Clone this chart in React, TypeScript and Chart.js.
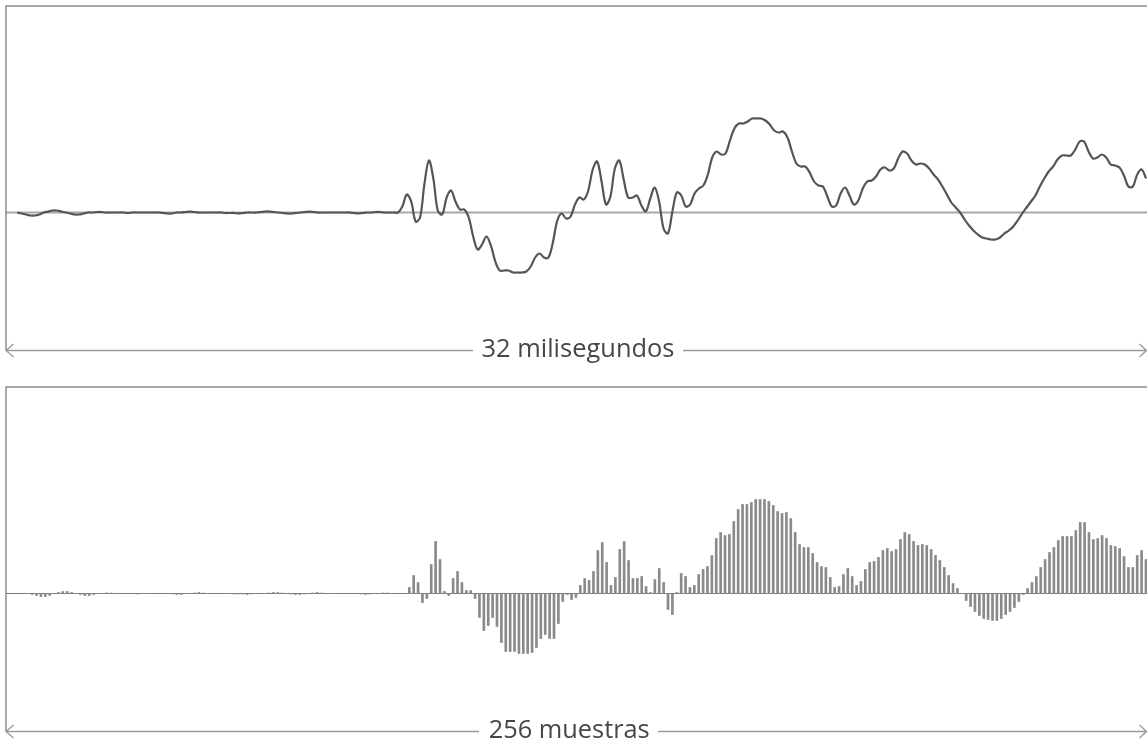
import React, { useEffect, useRef } from "react";
import { Chart, registerables } from "chart.js";

Chart.register(...registerables);

// Amplitude of each of the 256 samples (arbitrary units, 0 = silence).
// Samples 0–86: near-silent lead-in.
const quietSamples = [
  0, -1, -2, -3, -3, -2, 0, 1, 2, 2, 1, 0, -1, -2, -2, -1, 0,
  0, 0.5, 0.5, 0, 0, 0, 0, 0, -0.5, 0, 0, 0, 0, 0, 0, 0, -0.5,
  -1, -1, 0, 0, 0.5, 1, 0.5, 0, 0, 0, 0, 0, 0, -0.5, -0.5, -0.5,
  -1, -0.5, 0, 0, 0, 0.5, 1, 1, 0.5, 0, -0.5, -1, -1, -0.5, 0, 0.5,
  1, 0.5, 0, 0, 0, 0, 0, 0, 0, 0, -0.5, -1, -0.5, 0, 0, 0.5, 0.5,
  0, 0, 0, 0,
];

// Samples 87–255: the sound itself.
const burstSamples = [
  6, 18, 11, -9, -5, 29, 52, 34, 2, -2, 15, 22, 11, 3, 3, -5, -24, -37, -32, -24,
  -33, -49, -58, -58, -58, -60, -60, -60, -59, -54, -45, -41, -45, -45, -30, -8, -1, -6, -4, 8,
  15, 13, 22, 43, 51, 31, 8, 16, 44, 52, 33, 15, 15, 17, 7, 1, 14, 25, 11, -16,
  -21, 1, 20, 17, 6, 8, 19, 24, 27, 38, 55, 61, 58, 59, 72, 84, 89, 89, 91, 94,
  94, 94, 92, 88, 82, 80, 81, 75, 61, 49, 46, 46, 40, 31, 27, 26, 16, 6, 7, 19,
  25, 17, 8, 12, 24, 31, 32, 36, 43, 45, 42, 44, 54, 61, 59, 52, 48, 49, 48, 44,
  38, 33, 26, 18, 10, 5, 0, -7, -13, -18, -22, -25, -26, -27, -27, -25, -21, -18, -14, -8,
  -1, 5, 11, 17, 26, 34, 41, 46, 53, 57, 57, 57, 63, 71, 71, 61, 54, 55, 58, 55,
  48, 47, 45, 37, 26, 26, 38, 43, 34,
];

const samples = [...quietSamples, ...burstSamples];
const sampleLabels = samples.map((_, i) => String(i));

const durationLabel = "32 milisegundos";
const countLabel = "256 muestras";

const Y_MIN = -138;
const Y_MAX = 206.5;
const W = 1147;

type FrameOpts = {
  label: string;
  labelLeft: number;
  labelWidth: number;
  gapLeft: number;
  gapRight: number;
  zeroColor: string;
  zeroWidth: number;
};

// Draws the open box, the zero line, the measuring arrow and its caption.
function framePlugin(o: FrameOpts) {
  return {
    id: "frame",
    beforeDatasetsDraw(chart: any) {
      const ctx = chart.ctx as CanvasRenderingContext2D;
      const y0 = chart.scales.y.getPixelForValue(0);
      ctx.save();
      ctx.strokeStyle = o.zeroColor;
      ctx.lineWidth = o.zeroWidth;
      ctx.beginPath();
      ctx.moveTo(6, y0);
      ctx.lineTo(chart.width, y0);
      ctx.stroke();
      ctx.restore();
    },
    afterDatasetsDraw(chart: any) {
      const ctx = chart.ctx as CanvasRenderingContext2D;
      const { top, bottom } = chart.chartArea;
      const right = chart.width;
      ctx.save();
      // box: top edge and left edge
      ctx.strokeStyle = "#8c8c8c";
      ctx.lineWidth = 1.5;
      ctx.beginPath();
      ctx.moveTo(right, top);
      ctx.lineTo(6, top);
      ctx.lineTo(6, bottom);
      ctx.stroke();
      // arrow
      const ay = bottom;
      ctx.strokeStyle = "#9a9a9a";
      ctx.lineWidth = 1.3;
      ctx.beginPath();
      ctx.moveTo(6, ay);
      ctx.lineTo(o.gapLeft, ay);
      ctx.moveTo(o.gapRight, ay);
      ctx.lineTo(right, ay);
      ctx.moveTo(13.5, ay - 6.5);
      ctx.lineTo(6, ay);
      ctx.lineTo(13.5, ay + 6.5);
      ctx.moveTo(right - 7.5, ay - 6.5);
      ctx.lineTo(right - 0.5, ay);
      ctx.lineTo(right - 7.5, ay + 6.5);
      ctx.stroke();
      // caption
      ctx.font = '25px "Open Sans"';
      ctx.fillStyle = "#474747";
      ctx.textBaseline = "alphabetic";
      const m = ctx.measureText(o.label).width;
      const sx = o.labelWidth / m;
      ctx.translate(o.labelLeft, ay + 6.7);
      ctx.scale(sx, 1);
      ctx.fillText(o.label, 0, 0);
      ctx.restore();
    },
  };
}

function useChart(ref: React.RefObject<HTMLCanvasElement | null>, make: (c: HTMLCanvasElement) => Chart) {
  useEffect(() => {
    if (!ref.current) return;
    const chart = make(ref.current);
    return () => chart.destroy();
  }, []);
}

export default function App() {
  const topRef = useRef<HTMLCanvasElement>(null);
  const botRef = useRef<HTMLCanvasElement>(null);

  // Continuous waveform
  useChart(topRef, (c) =>
    new Chart(c, {
      type: "line",
      data: {
        labels: sampleLabels,
        datasets: [
          {
            data: samples,
            borderColor: "#555555",
            borderWidth: 2.2,
            tension: 0.35,
            pointRadius: 0,
            fill: false,
            clip: false as any,
          },
        ],
      },
      options: {
        responsive: false,
        animation: false,
        events: [],
        layout: { padding: { left: 17.2, right: W - (17.2 + 255 * 4.427), top: 6, bottom: 372 - 350.5 } },
        plugins: { legend: { display: false }, tooltip: { enabled: false }, title: { display: false } },
        scales: {
          x: { type: "category", display: false, offset: false },
          y: { type: "linear", display: false, min: Y_MIN, max: Y_MAX },
        },
      },
      plugins: [
        framePlugin({
          label: durationLabel,
          labelLeft: 481.5,
          labelWidth: 193,
          gapLeft: 473,
          gapRight: 683,
          zeroColor: "#a8a8a8",
          zeroWidth: 2,
        }),
      ],
    })
  );

  // Sampled values
  useChart(botRef, (c) =>
    new Chart(c, {
      type: "bar",
      data: {
        labels: sampleLabels,
        datasets: [
          {
            data: samples,
            backgroundColor: "#8a8a8a",
            barThickness: 2,
            borderWidth: 0,
            clip: false as any,
          },
        ],
      },
      options: {
        responsive: false,
        animation: false,
        events: [],
        layout: { padding: { left: 27.8, right: W - (27.8 + 255 * 4.385), top: 15, bottom: 373 - 359.5 } },
        plugins: { legend: { display: false }, tooltip: { enabled: false }, title: { display: false } },
        scales: {
          x: { type: "category", display: false, offset: false },
          y: { type: "linear", display: false, min: Y_MIN, max: Y_MAX },
        },
      },
      plugins: [
        framePlugin({
          label: countLabel,
          labelLeft: 488.7,
          labelWidth: 161,
          gapLeft: 479,
          gapRight: 658,
          zeroColor: "#7a7a7a",
          zeroWidth: 1.2,
        }),
      ],
    })
  );

  return (
    <div style={{ position: "absolute", left: 0, top: 0, width: W, height: 745, background: "#fff", overflow: "hidden" }}>
      <canvas ref={topRef} width={W} height={372} style={{ position: "absolute", left: 0, top: 0 }} />
      <canvas ref={botRef} width={W} height={373} style={{ position: "absolute", left: 0, top: 372 }} />
    </div>
  );
}
